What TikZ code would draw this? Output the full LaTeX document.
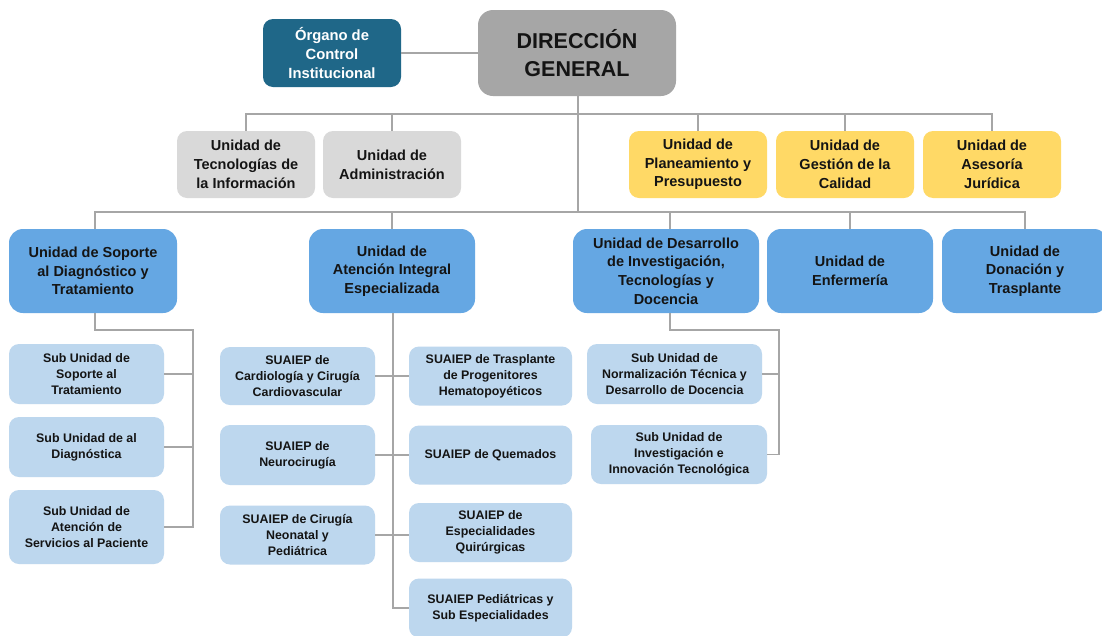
\documentclass[tikz,border=0pt]{standalone}
\usepackage{fontspec}
\setmainfont{Liberation Sans}
\definecolor{orgc}{HTML}{1F6788}
\definecolor{dgc}{HTML}{A6A6A6}
\definecolor{grayc}{HTML}{D9D9D9}
\definecolor{yelc}{HTML}{FFD966}
\definecolor{bluec}{HTML}{65A7E3}
\definecolor{lbluec}{HTML}{BDD7EE}
\definecolor{linec}{HTML}{A6A6A6}
\definecolor{txtc}{HTML}{141414}
\begin{document}
\begin{tikzpicture}[x=1pt,y=-1pt,
  box/.style={rounded corners=10pt, inner sep=0pt, align=center, text=txtc,
    font=\bfseries\fontsize{14.5}{18.7}\selectfont},
  orgbox/.style={box, fill=orgc, text=white, minimum width=138pt, minimum height=68pt,
    font=\bfseries\fontsize{14.8}{18.7}\selectfont},
  dgbox/.style={box, rounded corners=15pt, fill=dgc, minimum width=198pt, minimum height=86pt,
    font=\bfseries\fontsize{21.5}{28}\selectfont},
  graybox/.style={box, fill=grayc, minimum width=138pt, minimum height=67pt},
  yelbox/.style={box, fill=yelc, minimum width=138pt, minimum height=67pt},
  bluebox/.style={box, rounded corners=14pt, fill=bluec, minimum height=84pt},
  subbox/.style={box, fill=lbluec, font=\bfseries\fontsize{12.4}{16}\selectfont},
  conn/.style={draw=linec, line width=1.8pt}
]
\useasboundingbox (0,0) rectangle (1102,635);
\fill[white] (0,0) rectangle (1102,635);

% top
\node[orgbox] (org) at (332,53) {Órgano de\\Control\\Institucional};
\node[dgbox] (dg) at (577,53) {DIRECCIÓN\\GENERAL};

% staff level
\node[graybox] (tec) at (246,164.5) {Unidad de\\Tecnologías de\\la Información};
\node[graybox] (adm) at (392,164.5) {Unidad de\\Administración};
\node[yelbox] (pla) at (698,164.5) {Unidad de\\Planeamiento y\\Presupuesto};
\node[yelbox] (ges) at (845,164.5) {Unidad de\\Gestión de la\\Calidad};
\node[yelbox] (ase) at (992,164.5) {Unidad de\\Asesoría\\Jurídica};

% line units
\node[bluebox, minimum width=168pt] (sop) at (93,271) {Unidad de Soporte\\al Diagnóstico y\\Tratamiento};
\node[bluebox, minimum width=166pt] (ate) at (392,271) {Unidad de\\Atención Integral\\Especializada};
\node[bluebox, minimum width=186pt] (des) at (666,271) {Unidad de Desarrollo\\de Investigación,\\Tecnologías y\\Docencia};
\node[bluebox, minimum width=166pt] (enf) at (850,271) {Unidad de\\Enfermería};
\node[bluebox, minimum width=166pt] (don) at (1025,271) {Unidad de\\Donación y\\Trasplante};

% sub units of soporte
\node[subbox, minimum width=155pt, minimum height=60pt] (s1) at (86.5,374) {Sub Unidad de\\Soporte al\\Tratamiento};
\node[subbox, minimum width=155pt, minimum height=60pt] (s2) at (86.5,447) {Sub Unidad de al\\Diagnóstica};
\node[subbox, minimum width=155pt, minimum height=74pt] (s3) at (86.5,527) {Sub Unidad de\\Atención de\\Servicios al Paciente};

% SUAIEP left column
\node[subbox, minimum width=155pt, minimum height=58pt] (c1) at (297.5,376) {SUAIEP de\\Cardiología y Cirugía\\Cardiovascular};
\node[subbox, minimum width=155pt, minimum height=60pt] (c2) at (297.5,455) {SUAIEP de\\Neurocirugía};
\node[subbox, minimum width=155pt, minimum height=59pt] (c3) at (297.5,535) {SUAIEP de Cirugía\\Neonatal y\\Pediátrica};

% SUAIEP right column
\node[subbox, minimum width=163pt, minimum height=59pt] (r1) at (490.5,376) {SUAIEP de Trasplante\\de Progenitores\\Hematopoyéticos};
\node[subbox, minimum width=163pt, minimum height=59pt] (r2) at (490.5,455) {SUAIEP de Quemados};
\node[subbox, minimum width=163pt, minimum height=59pt] (r3) at (490.5,532.5) {SUAIEP de\\Especialidades\\Quirúrgicas};
\node[subbox, minimum width=163pt, minimum height=59pt] (r4) at (490.5,608) {SUAIEP Pediátricas y\\Sub Especialidades};

% desarrollo sub units
\node[subbox, minimum width=175pt, minimum height=60pt] (d1) at (674.5,374) {Sub Unidad de\\Normalización Técnica y\\Desarrollo de Docencia};
\node[subbox, minimum width=176pt, minimum height=59pt] (d2) at (679,454.5) {Sub Unidad de\\Investigación e\\Innovación Tecnológica};

% junction coordinates
\coordinate (b1) at (578,114);
\coordinate (b2) at (578,212);
\coordinate (sj) at (95,330);
\coordinate (sx) at (193,330);
\coordinate (dj) at (670,330);
\coordinate (dx) at (779,330);

% connectors
\draw[conn] (org.east) -- (dg.west);
\draw[conn] (dg.south -| b1) -- (b2);
\draw[conn] (tec.north) |- (b1) -| (ase.north);
\draw[conn] (adm.north) -- (adm.north |- b1);
\draw[conn] (pla.north) -- (pla.north |- b1);
\draw[conn] (ges.north) -- (ges.north |- b1);
\draw[conn] ([xshift=2pt]sop.north) |- (b2) -| (don.north);
\draw[conn] (ate.north) -- (ate.north |- b2);
\draw[conn] ([xshift=4pt]des.north) -- ([xshift=4pt]des.north |- b2);
\draw[conn] (enf.north) -- (enf.north |- b2);

% soporte tree
\draw[conn] ([xshift=2pt]sop.south) -- (sj) -- (sx) |- (s3.east);
\draw[conn] (s1.east) -- (s1.east -| sx);
\draw[conn] (s2.east) -- (s2.east -| sx);

% atencion tree
\draw[conn] ([xshift=1pt]ate.south) -- ([xshift=1pt]ate.south |- r4.west) -- (r4.west);
\draw[conn] (c1.east) -- (c1.east -| r1.west);
\draw[conn] (c2.east) -- (c2.east -| r2.west);
\draw[conn] (c3.east) -- (c3.east -| r3.west);

% desarrollo tree
\draw[conn] ([xshift=4pt]des.south) -- (dj) -- (dx) |- (d2.east);
\draw[conn] (d1.east) -- (d1.east -| dx);
\end{tikzpicture}
\end{document}
